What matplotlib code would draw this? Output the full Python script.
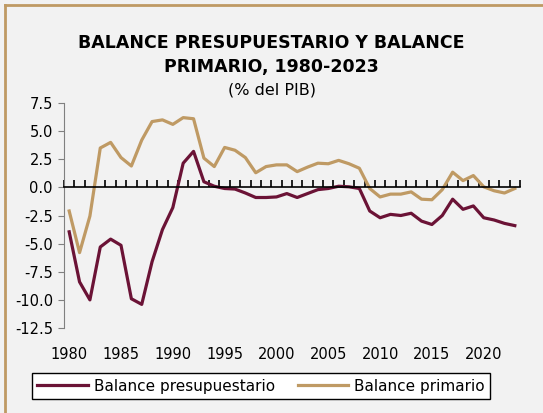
import matplotlib.pyplot as plt
import numpy as np
from matplotlib.lines import Line2D

years = np.arange(1980, 2024)
presupuestario = [-3.95, -8.4, -10.0, -5.3, -4.6, -5.15, -9.9, -10.4, -6.6, -3.75,
                  -1.8, 2.15, 3.2, 0.5, 0.1, -0.1, -0.15, -0.5, -0.9, -0.9,
                  -0.85, -0.55, -0.9, -0.55, -0.2, -0.1, 0.1, 0.05, -0.1, -2.1,
                  -2.7, -2.4, -2.5, -2.3, -3.0, -3.3, -2.5, -1.05, -1.95, -1.65,
                  -2.7, -2.9, -3.2, -3.4]
primario = [-2.1, -5.8, -2.55, 3.5, 4.0, 2.65, 1.9, 4.2, 5.85, 6.0,
            5.6, 6.2, 6.1, 2.6, 1.85, 3.55, 3.3, 2.65, 1.3, 1.85,
            2.0, 2.0, 1.4, 1.8, 2.15, 2.1, 2.4, 2.1, 1.7, -0.1,
            -0.85, -0.6, -0.6, -0.4, -1.05, -1.1, -0.2, 1.35, 0.6, 1.05,
            0.05, -0.3, -0.5, -0.1]
label_years = years[::5]

maroon = '#6b1336'
tan = '#bf9a64'
bg = '#f2f2f2'
plt.rcParams['font.family'] = ['DejaVu Sans']

fig = plt.figure(figsize=(5.43, 4.13), dpi=100, facecolor=bg)
ax = fig.add_axes([64/543, 1-328/413, 456/543, 225/413], facecolor=bg)

ax.plot(years, presupuestario, color=maroon, lw=2.3, label='Balance presupuestario')
ax.plot(years, primario, color=tan, lw=2.3, label='Balance primario')

ax.set_xlim(years[0]-0.5, years[-1]+0.5)
ax.set_ylim(-12.5, 7.5)
ax.set_yticks(np.arange(-12.5, 7.6, 2.5))
ax.set_yticklabels([f'{v:.1f}' for v in np.arange(-12.5, 7.6, 2.5)], fontsize=10.5)
ax.tick_params(axis='y', length=4, color='#808080', pad=4)

for s in ['top', 'right']:
    ax.spines[s].set_visible(False)
ax.spines['left'].set_color('#808080')
ax.spines['bottom'].set_position(('data', 0))
ax.spines['bottom'].set_color('black')
ax.spines['bottom'].set_linewidth(1.2)
ax.set_xticks(np.arange(years[0]-0.5, years[-1]+1, 1.0))
ax.tick_params(axis='x', direction='in', length=5, width=1.2, labelbottom=False)

sec = ax.secondary_xaxis('bottom')
sec.set_xticks(label_years)
sec.set_xticklabels([str(y) for y in label_years], fontsize=10.5)
sec.spines['bottom'].set_visible(False)
sec.tick_params(length=0, pad=14)

fig.text(0.5, 1-43/413, 'BALANCE PRESUPUESTARIO Y BALANCE', ha='center', va='center',
         fontsize=12.5, fontweight='bold')
fig.text(0.5, 1-67/413, 'PRIMARIO, 1980-2023', ha='center', va='center',
         fontsize=12.5, fontweight='bold')
fig.text(0.5, 1-90/413, '(% del PIB)', ha='center', va='center', fontsize=11.5)

leg = fig.legend(loc='center', bbox_to_anchor=(261/543, 1-386/413), ncol=2,
                 fontsize=11, handlelength=3.3, frameon=True, fancybox=False,
                 edgecolor='black', facecolor='white', framealpha=1,
                 borderpad=0.35, columnspacing=1.5, handletextpad=0.4)
leg.get_frame().set_linewidth(1)

fig.add_artist(Line2D([5/543, 5/543], [0, 1-5/413], color=tan, lw=2))
fig.add_artist(Line2D([5/543, 1], [1-5/413, 1-5/413], color=tan, lw=2))

fig.savefig('out.png', dpi=100, facecolor=bg)
